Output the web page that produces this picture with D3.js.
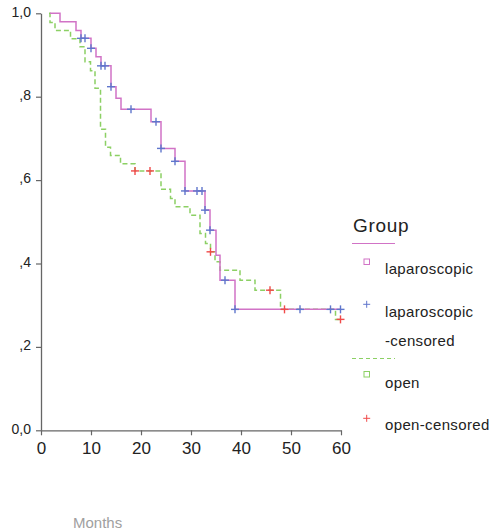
<!DOCTYPE html>
<html><head><meta charset="utf-8">
<script src="https://cdn.jsdelivr.net/npm/d3@7/dist/d3.min.js"></script>
<style>
html,body{margin:0;padding:0;background:#fff;}
svg{display:block;font-family:"Liberation Sans",Arial,sans-serif;}
</style></head>
<body>
<svg id="chart" width="492" height="532"></svg>
<script>
// ---- data ----
const lapTimes = [1.8, 3.8, 7.0, 8.0, 10.0, 11.0, 12.0, 14.0, 15.0, 16.0, 22.0, 24.0, 26.8, 28.8, 32.8, 33.8, 35.0, 35.8, 38.8];
const lapSurv  = [1.0, 0.980, 0.959, 0.940, 0.916, 0.896, 0.874, 0.824, 0.796, 0.770, 0.740, 0.676, 0.645, 0.574, 0.528, 0.480, 0.420, 0.360, 0.290];
const lapCensor = [8.0, 8.8, 10.0, 12.0, 12.8, 14.0, 18.0, 23.0, 24.0, 26.8, 28.8, 31.2, 32.2, 32.8, 33.8, 36.8, 38.8, 51.8, 57.9, 59.9];

const openTimes = [1.6, 1.8, 2.8, 5.9, 7.8, 8.8, 9.9, 10.8, 11.9, 12.9, 13.9, 15.9, 18.8, 24.0, 25.9, 26.8, 29.8, 31.8, 32.9, 33.9, 34.8, 35.8, 39.8, 42.8, 47.9, 58.9];
const openSurv  = [1.0, 0.978, 0.959, 0.939, 0.920, 0.884, 0.862, 0.820, 0.722, 0.679, 0.659, 0.639, 0.622, 0.578, 0.556, 0.536, 0.516, 0.472, 0.448, 0.428, 0.404, 0.384, 0.360, 0.336, 0.290, 0.266];
const openCensor = [18.8, 21.8, 33.9, 45.8, 48.7, 59.9];

const endTime = 60;
const xTicks = [0, 10, 20, 30, 40, 50, 60];
const yTicks = [0, 0.2, 0.4, 0.6, 0.8, 1.0];
const yTickLabels = ["0,0", ",2", ",4", ",6", ",8", "1,0"];
const legendTitle = "Group";
const legendItems = ["laparoscopic", "laparoscopic\n-censored", "open", "open-censored"];
const xTitle = "Months";

// ---- styles ----
const cLap = "#d173c6", cLapC = "#5f76cc", cOpen = "#8cd064", cOpenC = "#f04a4a";

const svg = d3.select("#chart");
const x = d3.scaleLinear().domain([0, 60]).range([41, 341]);
const y = d3.scaleLinear().domain([0, 1]).range([430.3, 13.3]);

function stepPoints(times, surv) {
  const pts = times.map((t, i) => [t, surv[i]]);
  pts.push([endTime, surv[surv.length - 1]]);
  return pts;
}
function survAt(times, surv, t) {
  let v = surv[0];
  for (let i = 0; i < times.length; i++) if (times[i] <= t + 1e-9) v = surv[i];
  return v;
}
const line = d3.line().x(d => x(d[0])).y(d => y(d[1])).curve(d3.curveStepAfter);

// axes
const axisColor = "#666";
const yAxis = svg.append("g").attr("transform", `translate(${x(0)},0)`)
  .call(d3.axisLeft(y).tickValues(yTicks).tickSize(5).tickSizeOuter(0).tickFormat((d, i) => yTickLabels[i]));
yAxis.select(".domain").attr("stroke", axisColor).attr("stroke-width", 1.3);
yAxis.selectAll(".tick line").attr("stroke", axisColor).attr("stroke-width", 1.2);
yAxis.selectAll(".tick text").attr("fill", "#222").attr("font-size", 14).attr("x", -10).attr("dy", "0.2em")
  .attr("font-family", "Liberation Sans, Arial, sans-serif");

const xAxis = svg.append("g").attr("transform", `translate(0,${y(0)})`)
  .call(d3.axisBottom(x).tickValues(xTicks).tickSize(5).tickSizeOuter(0));
xAxis.select(".domain").attr("stroke", axisColor).attr("stroke-width", 1.3);
xAxis.selectAll(".tick line").attr("stroke", axisColor).attr("stroke-width", 1.2);
xAxis.selectAll(".tick text").attr("fill", "#222").attr("font-size", 17).attr("y", 12).attr("dy", "0.71em")
  .attr("font-family", "Liberation Sans, Arial, sans-serif");

// curves
svg.append("path").attr("d", line(stepPoints(openTimes, openSurv)))
  .attr("fill", "none").attr("stroke", cOpen).attr("stroke-width", 1.5).attr("stroke-dasharray", "5,3");
svg.append("path").attr("d", line(stepPoints(lapTimes, lapSurv)))
  .attr("fill", "none").attr("stroke", cLap).attr("stroke-width", 1.5);

function plus(g, cx, cy, r, color, w) {
  g.append("line").attr("x1", cx - r).attr("x2", cx + r).attr("y1", cy).attr("y2", cy).attr("stroke", color).attr("stroke-width", w);
  g.append("line").attr("x1", cx).attr("x2", cx).attr("y1", cy - r).attr("y2", cy + r).attr("stroke", color).attr("stroke-width", w);
}
const cg = svg.append("g");
lapCensor.forEach(t => plus(cg, x(t), y(survAt(lapTimes, lapSurv, t)), 4, cLapC, 1.4));
openCensor.forEach(t => plus(cg, x(t), y(survAt(openTimes, openSurv, t)), 4, cOpenC, 1.4));

// legend
const lg = svg.append("g").attr("font-family", "Liberation Sans, Arial, sans-serif").attr("fill", "#222");
lg.append("text").attr("x", 353).attr("y", 232).attr("font-size", 19).attr("letter-spacing", 0.7).text(legendTitle);
lg.append("line").attr("x1", 352).attr("x2", 395).attr("y1", 243.5).attr("y2", 243.5).attr("stroke", cLap).attr("stroke-width", 1.2);
lg.append("rect").attr("x", 364).attr("y", 259).attr("width", 5.5).attr("height", 5.5).attr("fill", "none").attr("stroke", cLap).attr("stroke-width", 1);
lg.append("text").attr("x", 385).attr("y", 274).attr("font-size", 15).attr("letter-spacing", 0.35).text(legendItems[0]);
plus(lg, 366.7, 304.3, 3.5, cLapC, 1);
const l2 = legendItems[1].split("\n");
lg.append("text").attr("x", 385).attr("y", 317).attr("font-size", 15).attr("letter-spacing", 0.35).text(l2[0]);
lg.append("text").attr("x", 385).attr("y", 346).attr("font-size", 15).attr("letter-spacing", 0.35).text(l2[1]);
lg.append("line").attr("x1", 352).attr("x2", 395).attr("y1", 358.5).attr("y2", 358.5).attr("stroke", cOpen).attr("stroke-width", 1.2).attr("stroke-dasharray", "4,3");
lg.append("rect").attr("x", 364).attr("y", 371.5).attr("width", 5.5).attr("height", 5.5).attr("fill", "none").attr("stroke", cOpen).attr("stroke-width", 1);
lg.append("text").attr("x", 385).attr("y", 388).attr("font-size", 15).attr("letter-spacing", 0.35).text(legendItems[2]);
plus(lg, 366.7, 418.3, 3.5, cOpenC, 1);
lg.append("text").attr("x", 385).attr("y", 430).attr("font-size", 15).attr("letter-spacing", 0.35).text(legendItems[3]);

// x title
svg.append("text").attr("x", 73).attr("y", 528).attr("font-size", 15).attr("fill", "#a0a0a0")
  .attr("font-family", "Liberation Sans, Arial, sans-serif").text(xTitle);
</script>
</body></html>
